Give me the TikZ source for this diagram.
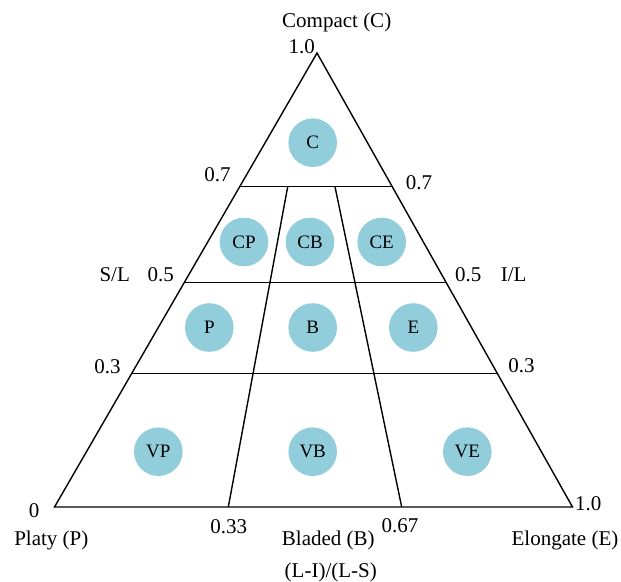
\documentclass[tikz,border=0pt]{standalone}
\usepackage{fontspec}
\setmainfont{Liberation Serif}
\usetikzlibrary{calc}
\definecolor{bub}{RGB}{146,205,220}
\begin{document}
\begin{tikzpicture}[x=1pt,y=-1pt,
  edge/.style={line width=1.4pt, line join=miter},
  cls/.style={circle, fill=bub, minimum size=48.6pt, inner sep=0pt, font=\fontsize{19}{19}\selectfont},
  lab/.style={font=\fontsize{21}{21}\selectfont, inner sep=0pt, anchor=base}]
\useasboundingbox (0,0) rectangle (621,581);
% vertices
\coordinate (A) at (317,53);
\coordinate (PL) at (54.5,507);
\coordinate (PR) at (572.5,507);
% level lines
\coordinate (h7l) at ($(A)!0.2945!(PL)$);
\coordinate (h7r) at ($(A)!0.2945!(PR)$);
\coordinate (h5l) at ($(A)!0.505!(PL)$);
\coordinate (h5r) at ($(A)!0.505!(PR)$);
\coordinate (h3l) at ($(A)!0.7064!(PL)$);
\coordinate (h3r) at ($(A)!0.7064!(PR)$);
% inner lines
\coordinate (b33) at (228.3,507);
\coordinate (u33) at (287.7,186.7);
\coordinate (b67) at (401.7,507);
\coordinate (u67) at (335,186.7);

\draw[edge] (A) -- (PL) -- (PR) -- cycle;
\draw[edge] (h7l) -- (h7r);
\draw[edge] (h5l) -- (h5r);
\draw[edge] (h3l) -- (h3r);
\draw[edge] (b33) -- (u33);
\draw[edge] (b67) -- (u67);

% classes
\node[cls] (C) at (312.7,142.7) {C};
\node[cls] (CP) at (244,242) {CP};
\node[cls] (CB) at (310,242) {CB};
\node[cls] (CE) at (381.7,242) {CE};
\node[cls] (P) at (209.3,327.5) {P};
\node[cls] (B) at (312.7,327.5) {B};
\node[cls] (E) at (413.3,327.5) {E};
\node[cls] (VP) at (158.3,451.7) {VP};
\node[cls] (VB) at (312.7,451.7) {VB};
\node[cls] (VE) at (467.3,451.7) {VE};

% labels
\node[lab] (compact) at (336.7,27.7) {Compact (C)};
\node[lab] (top10) at (301.7,53) {1.0};
\node[lab] (l07) at (217.5,181.7) {0.7};
\node[lab] (r07) at (419,189.3) {0.7};
\node[lab] (SL) at (114.7,281.7) {S/L};
\node[lab] (l05) at (160.8,281.7) {0.5};
\node[lab] (r05) at (468.3,281.7) {0.5};
\node[lab] (IL) at (513.7,281.7) {I/L};
\node[lab] (l03) at (107.5,373) {0.3};
\node[lab] (r03) at (521.5,372.7) {0.3};
\node[lab] (zero) at (34,517.3) {0};
\node[lab] (r10) at (588.3,510) {1.0};
\node[lab] (platy) at (51.3,545) {Platy (P)};
\node[lab] (t033) at (228.7,533) {0.33};
\node[lab] (bladed) at (328.3,545) {Bladed (B)};
\node[lab] (t067) at (400,532.7) {0.67};
\node[lab] (elong) at (565,545) {Elongate (E)};
\node[lab] (ratio) at (330.8,577.3) {(L-I)/(L-S)};
\end{tikzpicture}
\end{document}
